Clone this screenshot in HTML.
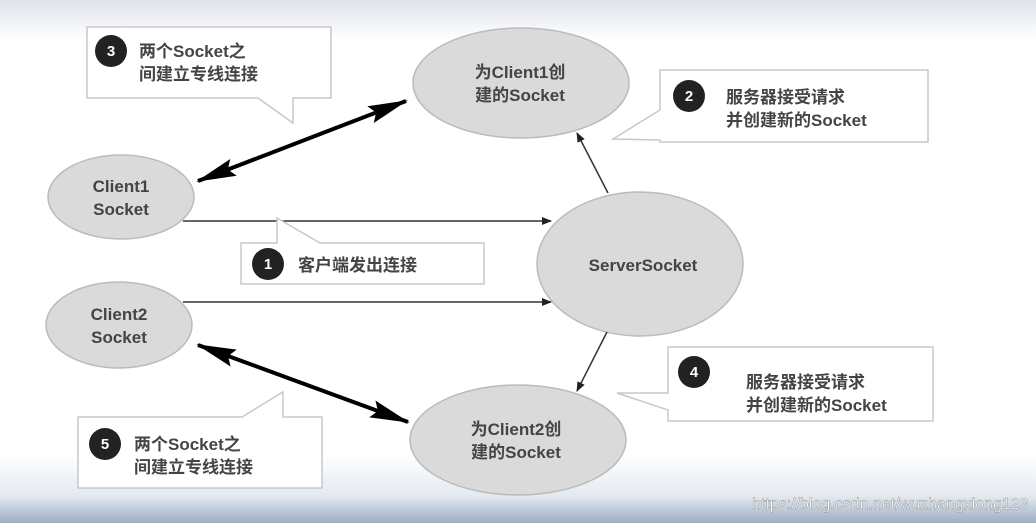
<!DOCTYPE html>
<html><head><meta charset="utf-8"><style>
html,body{margin:0;padding:0;width:1036px;height:523px;overflow:hidden;background:#fff}
svg text{font-family:"Liberation Sans","Noto Sans CJK SC",sans-serif;font-weight:bold;fill:#444}
</style></head><body>
<svg width="1036" height="523" viewBox="0 0 1036 523" xmlns="http://www.w3.org/2000/svg">
<defs>
<linearGradient id="top" x1="0" y1="0" x2="0" y2="1"><stop offset="0" stop-color="#dfe4ea"/><stop offset="1" stop-color="#fff"/></linearGradient>
<linearGradient id="bot" x1="0" y1="0" x2="0" y2="1"><stop offset="0" stop-color="#fff"/><stop offset="0.6" stop-color="#e4eaf0"/><stop offset="1" stop-color="#9aaec4"/></linearGradient>
<marker id="a" markerWidth="10" markerHeight="10" refX="9" refY="5" orient="auto" markerUnits="userSpaceOnUse"><path d="M0,1 L10,5 L0,9 Z" fill="#222"/></marker>
<marker id="b" markerWidth="40" markerHeight="24" refX="38" refY="12" orient="auto-start-reverse" markerUnits="userSpaceOnUse"><path d="M0,3 L40,12 L0,21 L6,12 Z" fill="#000"/></marker>
</defs>
<rect width="1036" height="40" fill="url(#top)"/>
<rect y="455" width="1036" height="68" fill="url(#bot)"/>

<g fill="#dadada" stroke="#bbb" stroke-width="1.5">
<ellipse cx="121" cy="197" rx="73" ry="42"/>
<ellipse cx="119" cy="325" rx="73" ry="43"/>
<ellipse cx="521" cy="83" rx="108" ry="55"/>
<ellipse cx="640" cy="264" rx="103" ry="72"/>
<ellipse cx="518" cy="440" rx="108" ry="55"/>
</g>

<g stroke="#333" stroke-width="1.5" fill="none">
<line x1="183" y1="221" x2="551" y2="221" marker-end="url(#a)"/>
<line x1="183" y1="302" x2="551" y2="302" marker-end="url(#a)"/>
<line x1="608" y1="193" x2="577" y2="133" marker-end="url(#a)"/>
<line x1="607" y1="332" x2="577" y2="391" marker-end="url(#a)"/>
</g>
<g stroke="#000" stroke-width="4">
<line x1="198" y1="181" x2="406" y2="101" marker-start="url(#b)" marker-end="url(#b)"/>
<line x1="198" y1="345" x2="408" y2="422" marker-start="url(#b)" marker-end="url(#b)"/>
</g>

<g fill="#fff" stroke="#c8c8c8" stroke-width="1.5">
<path d="M87,27 H331 V98 H293 V123 L258,98 H87 Z"/>
<path d="M241,243 H277 V218 L320,243 H484 V284 H241 Z"/>
<path d="M660,70 H928 V142 H660 V140 L613,139 L660,110 Z"/>
<path d="M668,347 H933 V421 H668 V410 L617,393 L668,393 Z"/>
<path d="M78,417 H242 L283,392 V417 H322 V488 H78 Z"/>
</g>

<g fill="#222">
<circle cx="111" cy="51" r="16"/><circle cx="268" cy="264" r="16"/>
<circle cx="689" cy="96" r="16"/><circle cx="694" cy="372" r="16"/>
<circle cx="105" cy="444" r="16"/>
</g>
<g style="fill:#fff;font-size:15px" text-anchor="middle">
<text x="111" y="56" style="fill:#fff">3</text><text x="268" y="269" style="fill:#fff">1</text>
<text x="689" y="101" style="fill:#fff">2</text><text x="694" y="377" style="fill:#fff">4</text>
<text x="105" y="449" style="fill:#fff">5</text>
</g>

<g font-size="17">
<text x="139" y="57">两个Socket之</text><text x="139" y="80">间建立专线连接</text>
<text x="298" y="271">客户端发出连接</text>
<text x="726" y="103">服务器接受请求</text><text x="726" y="126">并创建新的Socket</text>
<text x="746" y="388">服务器接受请求</text><text x="746" y="411">并创建新的Socket</text>
<text x="134" y="450">两个Socket之</text><text x="134" y="473">间建立专线连接</text>
</g>
<g font-size="17" text-anchor="middle">
<text x="121" y="192">Client1</text><text x="121" y="215">Socket</text>
<text x="119" y="320">Client2</text><text x="119" y="343">Socket</text>
<text x="520" y="78">为Client1创</text><text x="520" y="101">建的Socket</text>
<text x="643" y="271">ServerSocket</text>
<text x="516" y="435">为Client2创</text><text x="516" y="458">建的Socket</text>
</g>
<text x="752" y="509" style="font-size:16px;font-weight:normal;fill:#fff;stroke:#888;stroke-width:0.4">https://blog.csdn.net/wuzhangxiong123</text>
</svg>
</body></html>
